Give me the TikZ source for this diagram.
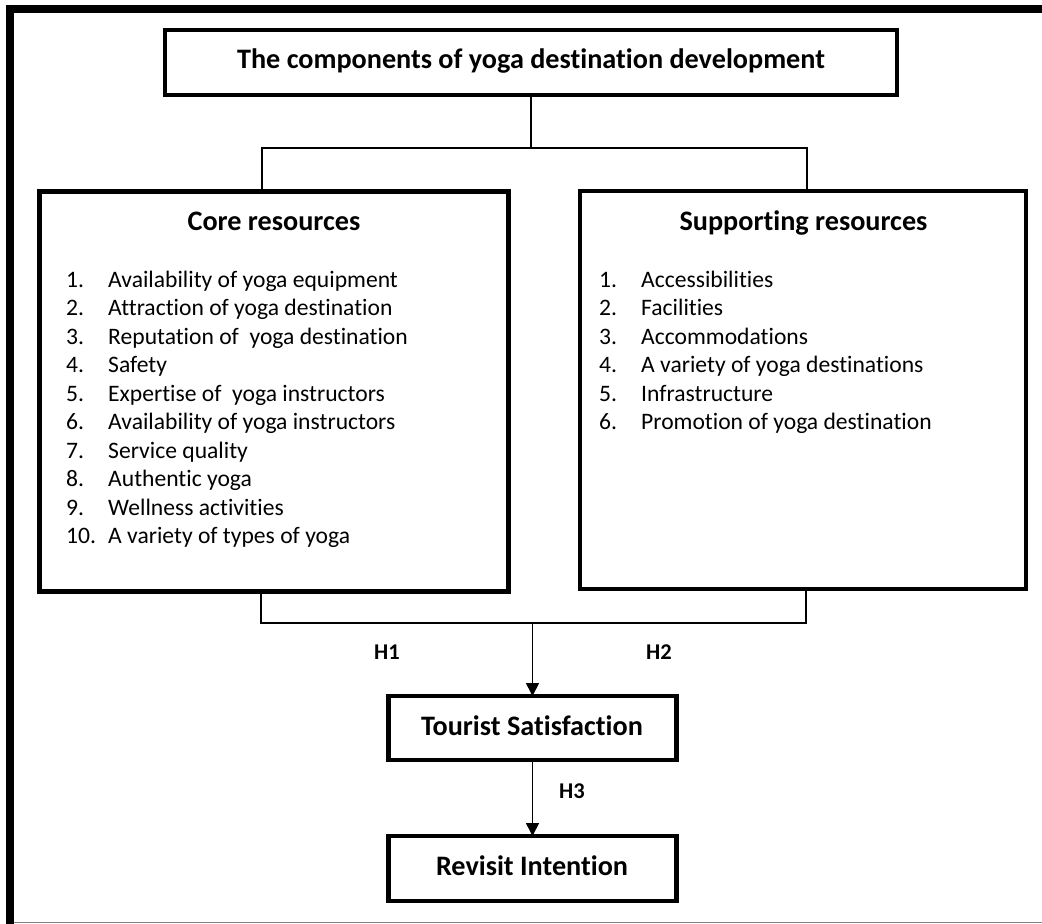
\documentclass[tikz,border=0pt]{standalone}
\usepackage{fontspec}
\setmainfont[Ligatures=NoCommon]{Carlito}
\usetikzlibrary{arrows.meta}
\tikzset{
  box/.style={draw, line width=4.5pt, inner sep=0pt, outer sep=0pt},
  conn/.style={draw, line width=1.7pt},
  arr/.style={conn, -{Triangle[width=13pt,length=13pt]}},
  headtext/.style={anchor=base, inner sep=0pt, font=\fontsize{28.2}{32}\selectfont\bfseries},
  htext/.style={anchor=base west, inner sep=0pt, font=\fontsize{22.5}{26}\selectfont\bfseries},
  itemtext/.style={anchor=base west, inner sep=0pt, font=\fontsize{23.6}{28}\selectfont},
}
\begin{document}
\begin{tikzpicture}[x=1pt,y=-1pt]
\useasboundingbox (0,0) rectangle (1042,924);
% outer frame
\draw[line width=8pt] (10,924) -- (10,8.5) -- (1042,8.5);
\draw[line width=1.3pt, gray] (14,922.3) -- (1042,922.3);

% boxes
\node[box, minimum width=732pt, minimum height=65pt] (title) at (531,62.5) {};
\node[box, minimum width=469pt, minimum height=400pt] (core) at (274,391.5) {};
\node[box, minimum width=446pt, minimum height=398pt] (sup) at (803,390) {};
\node[box, minimum width=288pt, minimum height=64pt] (tour) at (532.5,728) {};
\node[box, minimum width=288pt, minimum height=65pt] (rev) at (532.5,868.5) {};

% texts
\node[headtext] (titlet) at (531,68.3) {The components of yoga destination development};
\node[headtext] (coret) at (274,230) {Core resources};
\node[headtext] (supt) at (803.5,230) {Supporting resources};
\node[headtext] (tourt) at (532,735) {Tourist Satisfaction};
\node[headtext] (revt) at (532,875) {Revisit Intention};

\foreach \t [count=\i] in {Availability of yoga equipment, Attraction of yoga destination, Reputation of\ \ yoga destination, Safety, Expertise of\ \ yoga instructors, Availability of yoga instructors, Service quality, Authentic yoga, Wellness activities, A variety of types of yoga}{
  \node[itemtext] (cn\i) at (66,{287.3+28.5*(\i-1)}) {\i.};
  \node[itemtext] (ci\i) at (108,{287.3+28.5*(\i-1)}) {\t};
}
\foreach \t [count=\i] in {Accessibilities, Facilities, Accommodations, A variety of yoga destinations, Infrastructure, Promotion of yoga destination}{
  \node[itemtext] (sn\i) at (599,{287.3+28.5*(\i-1)}) {\i.};
  \node[itemtext] (si\i) at (641,{287.3+28.5*(\i-1)}) {\t};
}

% upper connector
\coordinate (cl) at (262,148);
\coordinate (cr) at (807,148);
\draw[conn] (title.south) -- (title.south |- cl);
\draw[conn] (cl |- core.north) -- (cl) -- (cr) -- (cr |- sup.north);

% lower connector
\coordinate (bl) at (261,623);
\coordinate (br) at (806,623);
\draw[conn] (bl |- core.south) -- (bl) -- (br) -- (br |- sup.south);
\draw[arr] (tour.north |- bl) -- (tour.north);
\draw[arr] (tour.south) -- (rev.north);

% hypothesis labels
\node[htext] (h1) at (374,659) {H1};
\node[htext] (h2) at (646,659) {H2};
\node[htext] (h3) at (559,798) {H3};
\end{tikzpicture}
\end{document}
